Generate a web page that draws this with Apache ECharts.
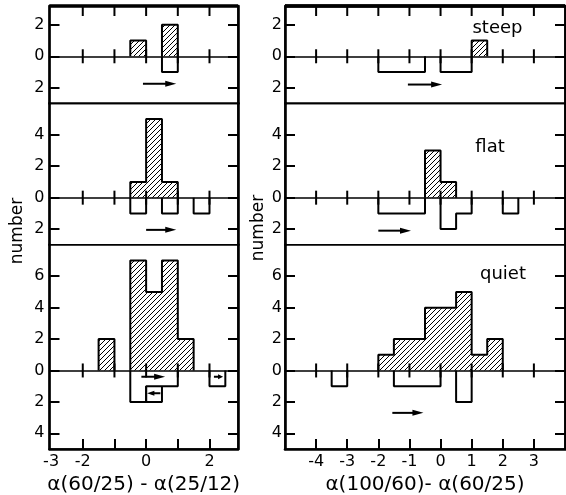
<!DOCTYPE html>
<html>
<head>
<meta charset="utf-8">
<script src="https://cdn.jsdelivr.net/npm/echarts@6/dist/echarts.min.js"></script>
<style>
  html, body { margin: 0; padding: 0; background: #fff; }
  #chart { width: 566px; height: 495px; }
</style>
</head>
<body>
<div id="chart"></div>
<script>
// Histogram bin width (spectral-index difference)
const BIN = 0.5;

// Left column: alpha(60/25) - alpha(25/12); bins as [bin start, number]
// "up" = hatched counts above zero, "down" = open counts drawn below zero
const steepLeftUp   = [[-0.5, 1], [0.5, 2]];
const steepLeftDown = [[0.5, 1]];
const flatLeftUp    = [[-0.5, 1], [0, 5], [0.5, 1]];
const flatLeftDown  = [[-0.5, 1], [0.5, 1], [1.5, 1]];
const quietLeftUp   = [[-1.5, 2], [-0.5, 7], [0, 5], [0.5, 7], [1, 2]];
const quietLeftDown = [[-0.5, 2], [0, 1], [0.5, 1], [2, 1]];
const quietLeftDownExtra = [[0, 1]];   // stacked below the open bins

// Right column: alpha(100/60) - alpha(60/25)
const steepRightUp   = [[1, 1]];
const steepRightDown = [[-2, 1], [-1.5, 1], [-1, 1], [0, 1], [0.5, 1]];
const flatRightUp    = [[-0.5, 3], [0, 1]];
const flatRightDown  = [[-2, 1], [-1.5, 1], [-1, 1], [0, 2], [0.5, 1], [2, 1]];
const quietRightUp   = [[-2, 1], [-1.5, 2], [-1, 2], [-0.5, 4], [0, 4], [0.5, 5], [1, 1], [1.5, 2]];
const quietRightDown = [[-3.5, 1], [-1.5, 1], [-1, 1], [-0.5, 1], [0.5, 2]];

// Limit arrows: [x from, y from, x to, y to], head at the "to" end
const steepLeftArrows  = [[-0.1, -1.75, 0.95, -1.75]];
const flatLeftArrows   = [[0, -2.05, 0.95, -2.05]];
const quietLeftArrows  = [[-0.15, -0.4, 0.6, -0.4], [0.45, -1.45, 0.03, -1.45], [2.14, -0.4, 2.43, -0.4]];
const steepRightArrows = [[-1.05, -1.8, 0.05, -1.8]];
const flatRightArrows  = [[-2, -2.1, -0.95, -2.1]];
const quietRightArrows = [[-1.55, -2.7, -0.55, -2.7]];

// Axes: ranges, ticks and tick labels
const leftXRange   = [-3.05, 2.9];
const rightXRange  = [-5, 4];
const leftXTicks   = [-2, -1, 0, 1, 2];
const leftXLabels  = [-3, -2, 0, 2];
const rightXTicks  = [-4, -3, -2, -1, 0, 1, 2, 3];
const rightXLabels = [-4, -3, -2, -1, 0, 1, 2, 3];
const rowYRanges = [[-3, 3.2], [-3, 6], [-5, 8]];
const rowYTicks  = [[-2, 0, 2], [-2, 0, 2, 4], [-4, -2, 0, 2, 4, 6]];
const classNames = ['steep', 'flat', 'quiet'];
const leftTitle  = 'α(60/25) - α(25/12)';
const rightTitle = 'α(100/60)- α(60/25)';
const yTitle     = 'number';

const FONT = 'DejaVu Sans';
const INK = '#000';

// Diagonal hatching used for the filled histograms
const hatch = (function () {
  const c = document.createElement('canvas');
  c.width = 5; c.height = 5;
  const g = c.getContext('2d');
  g.strokeStyle = INK; g.lineWidth = 1;
  g.beginPath();
  g.moveTo(0, 5); g.lineTo(5, 0);
  g.moveTo(-1, 1); g.lineTo(1, -1);
  g.moveTo(4, 6); g.lineTo(6, 4);
  g.stroke();
  return c;
})();

// Panel layout (pixels)
const colBox = [{ left: 49.5, width: 188.5 }, { left: 285, width: 280 }];
const rowBox = [{ top: 6, height: 97.4 }, { top: 103.4, height: 141.4 }, { top: 244.8, height: 204.2 }];

const panels = [
  { col: 0, row: 0, up: steepLeftUp,  down: steepLeftDown,  arrows: steepLeftArrows },
  { col: 0, row: 1, up: flatLeftUp,   down: flatLeftDown,   arrows: flatLeftArrows },
  { col: 0, row: 2, up: quietLeftUp,  down: quietLeftDown,  extra: quietLeftDownExtra, arrows: quietLeftArrows },
  { col: 1, row: 0, up: steepRightUp, down: steepRightDown, arrows: steepRightArrows },
  { col: 1, row: 1, up: flatRightUp,  down: flatRightDown,  arrows: flatRightArrows },
  { col: 1, row: 2, up: quietRightUp, down: quietRightDown, arrows: quietRightArrows }
];

// Step outline of contiguous bins; sign = +1 above zero, -1 below
function outlineGroups(bins, sign, baseOf) {
  const groups = [];
  let cur = null, end = null, lastBase = 0;
  bins.forEach(function (bin) {
    const s = bin[0], c = bin[1];
    const b = baseOf ? baseOf(s) : 0;
    if (!cur || Math.abs(s - end) > 1e-6) {
      if (cur) { cur.push([end, sign * lastBase]); groups.push(cur); }
      cur = [[s, sign * b]];
    }
    cur.push([s, sign * (b + c)], [s + BIN, sign * (b + c)]);
    end = s + BIN; lastBase = b;
  });
  if (cur) { cur.push([end, sign * lastBase]); groups.push(cur); }
  return groups;
}

const grids = [], xAxes = [], yAxes = [], series = [];
const tickStyle = { color: INK, width: 2 };
const labelStyle = { color: INK, fontFamily: FONT, fontSize: 16 };

panels.forEach(function (p, gi) {
  const cb = colBox[p.col], rb = rowBox[p.row];
  grids.push({
    left: cb.left, top: rb.top, width: cb.width, height: rb.height,
    show: true, borderColor: INK, borderWidth: 1.6, backgroundColor: 'transparent',
    containLabel: false, outerBoundsMode: 'none'
  });
  const xr = p.col === 0 ? leftXRange : rightXRange;
  const xt = p.col === 0 ? leftXTicks : rightXTicks;
  const xl = p.col === 0 ? leftXLabels : rightXLabels;
  const yr = rowYRanges[p.row], yt = rowYTicks[p.row];

  const yL = yAxes.length;
  yAxes.push({
    type: 'value', gridIndex: gi, position: 'left', min: yr[0], max: yr[1],
    axisLine: { show: true, onZero: false, lineStyle: { color: INK, width: 2.6 } },
    axisTick: { show: true, inside: true, length: 10, customValues: yt, lineStyle: tickStyle },
    axisLabel: Object.assign({ show: true, customValues: yt, margin: p.col === 0 ? 5 : 3,
      formatter: function (v) { return String(Math.abs(v)); } }, labelStyle),
    splitLine: { show: false }
  });
  yAxes.push({
    type: 'value', gridIndex: gi, position: 'right', min: yr[0], max: yr[1],
    axisLine: { show: true, onZero: false, lineStyle: { color: INK, width: 2.6 } },
    axisTick: { show: true, inside: true, length: 10, customValues: yt, lineStyle: tickStyle },
    axisLabel: { show: false }, splitLine: { show: false }
  });

  // zero line
  const xZ = xAxes.length;
  xAxes.push({
    type: 'value', gridIndex: gi, position: 'top', min: xr[0], max: xr[1],
    axisLine: { show: true, onZero: true, onZeroAxisIndex: yL, lineStyle: { color: INK, width: 1.5 } },
    axisTick: { show: false }, axisLabel: { show: false }, splitLine: { show: false }
  });
  // outer frame: bottom edge carries the inward ticks and the labels
  if (p.row === 2) {
    xAxes.push({
      type: 'value', gridIndex: gi, position: 'bottom', min: xr[0], max: xr[1],
      axisLine: { show: true, onZero: false, lineStyle: { color: INK, width: 2.6 } },
      axisTick: { show: true, inside: true, length: 10, customValues: xt, lineStyle: tickStyle },
      axisLabel: Object.assign({ show: true, customValues: xl, margin: 5 }, labelStyle),
      splitLine: { show: false },
      name: p.col === 0 ? leftTitle : rightTitle,
      nameLocation: 'middle', nameGap: 26,
      nameTextStyle: { color: INK, fontFamily: FONT, fontSize: 20 }
    });
  }

  // ticks crossing the zero line, plus inward ticks on the top edge of the top row
  const topRow = p.row === 0, yTop = yr[1];
  series.push({
    type: 'custom', xAxisIndex: xZ, yAxisIndex: yL, data: xt, z: 2, silent: true,
    renderItem: function (params, api) {
      const v = api.value(0);
      const z0 = api.coord([v, 0]);
      const kids = [{ type: 'line', shape: { x1: z0[0], y1: z0[1] - 7, x2: z0[0], y2: z0[1] + 7 },
        style: { stroke: INK, lineWidth: 2 } }];
      if (topRow) {
        const t = api.coord([v, yTop]);
        kids.push({ type: 'line', shape: { x1: t[0], y1: t[1], x2: t[0], y2: t[1] + 10 },
          style: { stroke: INK, lineWidth: 2 } });
        kids.push({ type: 'line', shape: { x1: api.coord([xr[0], yTop])[0], y1: t[1], x2: api.coord([xr[1], yTop])[0], y2: t[1] },
          style: { stroke: INK, lineWidth: 2.6 } });
      }
      return { type: 'group', children: kids };
    }
  });

  // hatched fill
  series.push({
    type: 'custom', xAxisIndex: xZ, yAxisIndex: yL, data: p.up, z: 3, silent: true,
    renderItem: function (params, api) {
      const s = api.value(0), c = api.value(1);
      const a = api.coord([s, c]), b = api.coord([s + BIN, 0]);
      return {
        type: 'rect',
        shape: { x: a[0], y: a[1], width: b[0] - a[0], height: b[1] - a[1] },
        style: { fill: { image: hatch, repeat: 'repeat' } }
      };
    }
  });

  // outlines
  const groups = outlineGroups(p.up, 1).concat(outlineGroups(p.down, -1));
  if (p.extra) {
    const baseOf = function (s) {
      const m = p.down.find(function (d) { return Math.abs(d[0] - s) < 1e-6; });
      return m ? m[1] : 0;
    };
    groups.push.apply(groups, outlineGroups(p.extra, -1, baseOf));
  }
  groups.forEach(function (pts) {
    series.push({
      type: 'line', xAxisIndex: xZ, yAxisIndex: yL, data: pts, symbol: 'none',
      lineStyle: { color: INK, width: 2 }, silent: true, z: 5, clip: false
    });
  });

  // limit arrows
  series.push({
    type: 'custom', xAxisIndex: xZ, yAxisIndex: yL, data: p.arrows, z: 6, silent: true,
    renderItem: function (params, api) {
      const a = api.coord([api.value(0), api.value(1)]);
      const b = api.coord([api.value(2), api.value(3)]);
      const len = Math.abs(b[0] - a[0]);
      const dir = b[0] > a[0] ? 1 : -1;
      const head = Math.min(11, len * 0.55), w = head > 8 ? 3 : 2.5;
      return {
        type: 'group',
        children: [
          { type: 'line', shape: { x1: a[0], y1: a[1], x2: b[0] - dir * head * 0.6, y2: b[1] },
            style: { stroke: INK, lineWidth: 2 } },
          { type: 'polygon', shape: { points: [[b[0], b[1]], [b[0] - dir * head, b[1] - w], [b[0] - dir * head, b[1] + w]] },
            style: { fill: INK } }
        ]
      };
    }
  });
});

const textStyle = { fill: INK, fontFamily: FONT, fontSize: 18, align: 'center', verticalAlign: 'middle' };
const graphic = [
  { type: 'text', x: 497.5, y: 28.5, style: Object.assign({ text: classNames[0] }, textStyle) },
  { type: 'text', x: 490, y: 147.5, style: Object.assign({ text: classNames[1] }, textStyle) },
  { type: 'text', x: 503, y: 274.5, style: Object.assign({ text: classNames[2] }, textStyle) },
  { type: 'text', x: 18, y: 231, rotation: Math.PI / 2,
    style: Object.assign({ text: yTitle }, textStyle, { fontSize: 17 }) },
  { type: 'text', x: 259, y: 228, rotation: Math.PI / 2,
    style: Object.assign({ text: yTitle }, textStyle, { fontSize: 17 }) }
];

const chart = echarts.init(document.getElementById('chart'), null, { renderer: 'canvas' });
chart.setOption({
  backgroundColor: '#fff',
  animation: false,
  grid: grids,
  xAxis: xAxes,
  yAxis: yAxes,
  series: series,
  graphic: graphic
});
</script>
</body>
</html>
